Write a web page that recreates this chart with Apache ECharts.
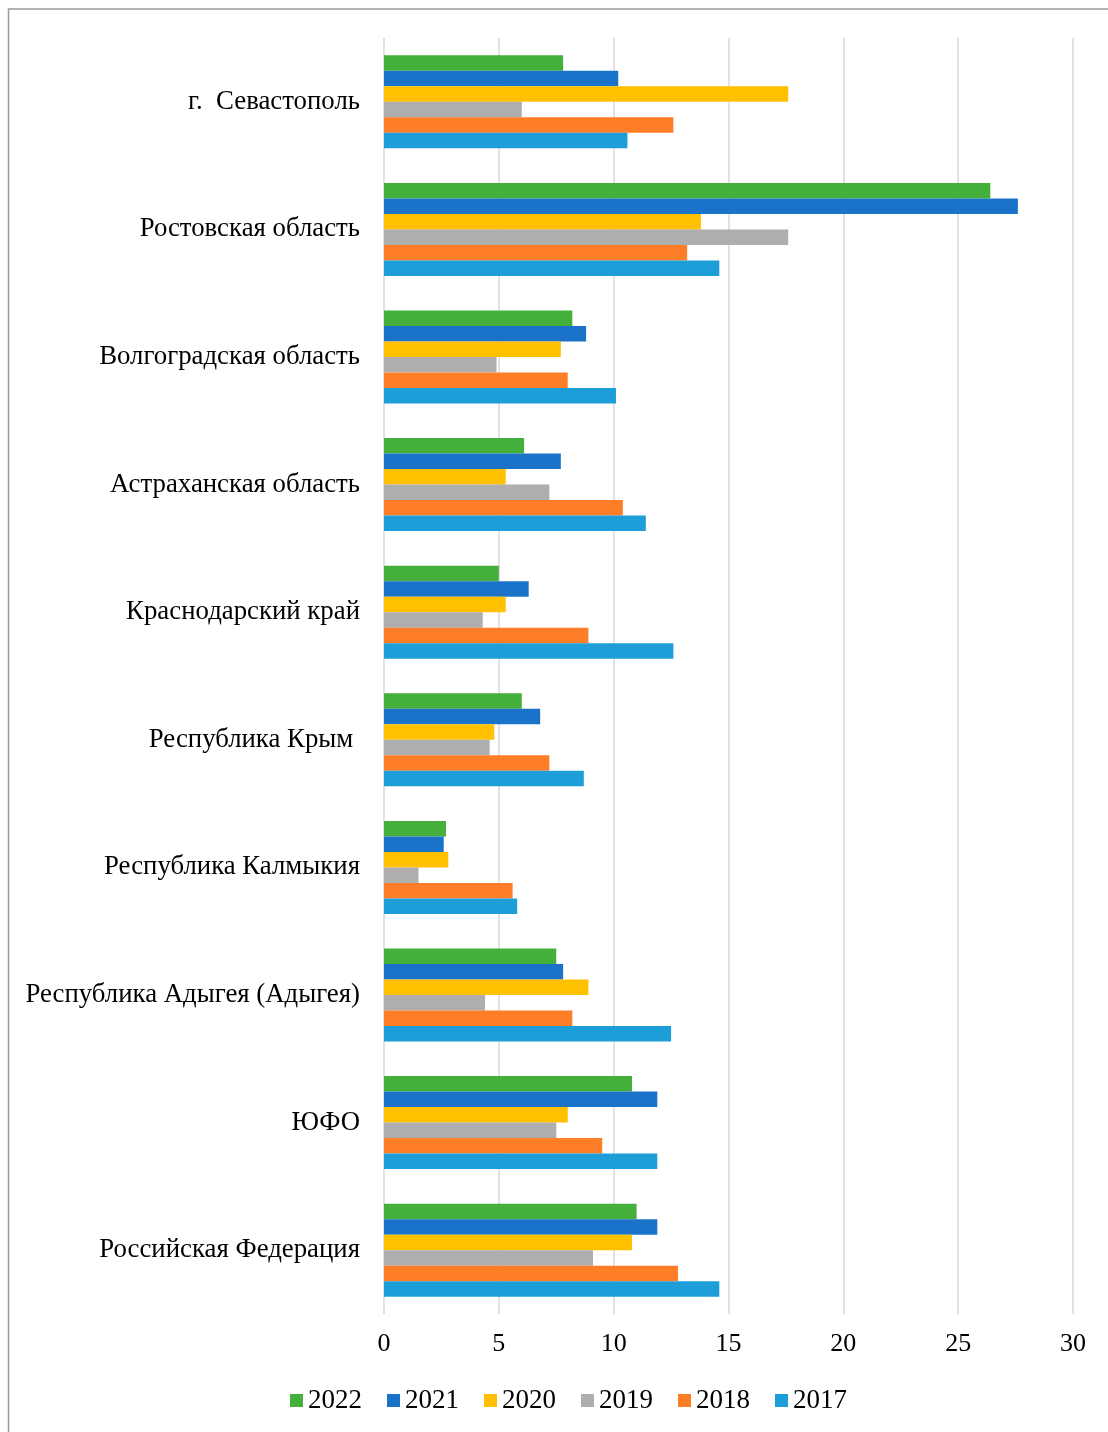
<!DOCTYPE html>
<html>
<head>
<meta charset="utf-8">
<script src="https://cdn.jsdelivr.net/npm/echarts@6/dist/echarts.min.js"></script>
<style>
html,body{margin:0;padding:0;background:#fff;}
#chart{width:1108px;height:1432px;}
</style>
</head>
<body>
<div id="chart"></div>
<script>
const categories = [
  "г.  Севастополь",
  "Ростовская область",
  "Волгоградская область",
  "Астраханская область",
  "Краснодарский край",
  "Республика Крым ",
  "Республика Калмыкия",
  "Республика Адыгея (Адыгея)",
  "ЮФО",
  "Российская Федерация"
];
const years = ["2022", "2021", "2020", "2019", "2018", "2017"];
const v2022 = [7.8, 26.4, 8.2, 6.1, 5.0, 6.0, 2.7, 7.5, 10.8, 11.0];
const v2021 = [10.2, 27.6, 8.8, 7.7, 6.3, 6.8, 2.6, 7.8, 11.9, 11.9];
const v2020 = [17.6, 13.8, 7.7, 5.3, 5.3, 4.8, 2.8, 8.9, 8.0, 10.8];
const v2019 = [6.0, 17.6, 4.9, 7.2, 4.3, 4.6, 1.5, 4.4, 7.5, 9.1];
const v2018 = [12.6, 13.2, 8.0, 10.4, 8.9, 7.2, 5.6, 8.2, 9.5, 12.8];
const v2017 = [10.6, 14.6, 10.1, 11.4, 12.6, 8.7, 5.8, 12.5, 11.9, 14.6];
const xTicks = [0, 5, 10, 15, 20, 25, 30];

const seriesValues = [v2022, v2021, v2020, v2019, v2018, v2017];
const colors = ["#45AF3C", "#1A73C8", "#FFC000", "#AEAEAE", "#FE7E27", "#1E9ED8"];
const FONT = "'Liberation Serif', 'Times New Roman', serif";

const chart = echarts.init(document.getElementById('chart'), null, {renderer: 'canvas'});
chart.setOption({
  animation: false,
  backgroundColor: '#ffffff',
  graphic: [{
    type: 'rect',
    shape: {x: 8.5, y: 9, width: 1200, height: 1600},
    style: {fill: 'none', stroke: '#9a9a9a', lineWidth: 1.5},
    silent: true, z: -1
  }],
  grid: {left: 384, right: 35, top: 38, bottom: 118, containLabel: false},
  legend: {
    data: years,
    left: 285,
    top: 1382,
    itemWidth: 13,
    itemHeight: 13,
    itemGap: 25,
    icon: 'rect',
    textStyle: {fontFamily: FONT, fontSize: 27, color: '#000'}
  },
  xAxis: {
    type: 'value',
    min: xTicks[0],
    max: xTicks[xTicks.length - 1],
    interval: 5,
    axisLine: {show: false},
    axisTick: {show: false},
    splitLine: {show: true, lineStyle: {color: '#d9d9d9', width: 1.5}},
    axisLabel: {fontFamily: FONT, fontSize: 26, color: '#000', margin: 17}
  },
  yAxis: {
    type: 'category',
    data: categories,
    inverse: true,
    axisLine: {show: false},
    axisTick: {show: false},
    axisLabel: {fontFamily: FONT, fontSize: 26.8, color: '#000', margin: 24, padding: [4, 0, 0, 0]}
  },
  series: years.map((y, i) => ({
    name: y,
    type: 'bar',
    data: seriesValues[i],
    barWidth: 15.5,
    barGap: '0%',
    itemStyle: {color: colors[i]}
  }))
});
</script>
</body>
</html>
